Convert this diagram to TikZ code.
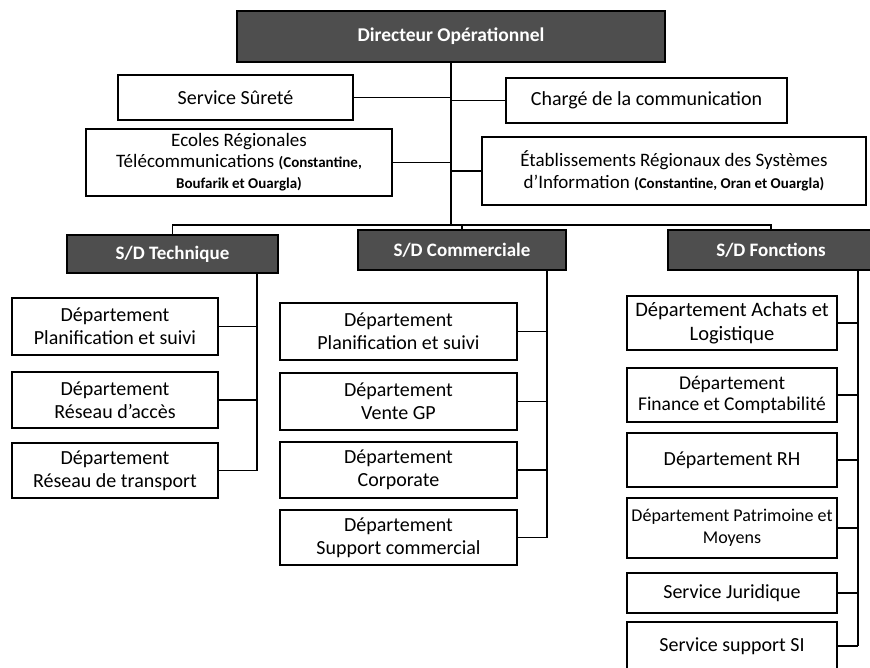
\documentclass[tikz,border=0pt]{standalone}
\usepackage{fontspec}
\setmainfont{Carlito}
\definecolor{darkfill}{HTML}{4E4E4E}
\newcommand\smallpar[1]{{\fontsize{15}{18}\selectfont\bfseries #1}}
\begin{document}
\begin{tikzpicture}[x=1pt,y=-1pt,
  wbox/.style={draw=black, line width=1.3pt, fill=white, align=center, inner sep=0pt, font=\fontsize{20}{23}\selectfont},
  dbox/.style={draw=black, line width=1.3pt, fill=darkfill, text=white, inner sep=0pt, font=\bfseries\fontsize{19}{22}\selectfont},
  sz/.style 2 args={minimum width=#1pt, minimum height=#2pt},
  link/.style={line width=1.3pt}]
\useasboundingbox (0,0) rectangle (870,667);
\clip (0,0) rectangle (870,667);
% top level
\node[dbox, sz={428}{51}, font=\bfseries\fontsize{19.5}{22}\selectfont] (dir) at (451,36.5) {Directeur Opérationnel};
\node[wbox, sz={235}{45}] (surete) at (235.5,97.5) {Service Sûreté};
\node[wbox, sz={281}{45}] (charge) at (646.5,100.5) {Chargé de la communication};
\node[wbox, sz={306}{67}, font=\fontsize{19}{21}\selectfont] (ecoles) at (239,162.5)
  {Ecoles Régionales\\Télécommunications \smallpar{(Constantine,}\\\smallpar{Boufarik et Ouargla)}};
\node[wbox, sz={384}{68}, font=\fontsize{19}{22}\selectfont] (etab) at (674,171)
  {Établissements Régionaux des Systèmes\\d’Information \smallpar{(Constantine, Oran et Ouargla)}};
% sub-directions
\node[dbox, sz={211}{38}] (tech) at (172.5,254) {S/D Technique};
\node[dbox, sz={208}{40}] (comm) at (462,250) {S/D Commerciale};
\node[dbox, sz={206}{40}] (fonc) at (771,250) {S/D Fonctions};
% technique children
\node[wbox, sz={206}{57}] (tp) at (115,326.5) {Département\\Planification et suivi};
\node[wbox, sz={206}{56}] (tr) at (115,400) {Département\\Réseau d’accès};
\node[wbox, sz={206}{55}] (tt) at (115,470.5) {Département\\Réseau de transport};
% commerciale children
\node[wbox, sz={237}{57}] (cp) at (398.5,331.5) {Département\\Planification et suivi};
\node[wbox, sz={237}{57}] (cv) at (398.5,401.5) {Département\\Vente GP};
\node[wbox, sz={237}{56}] (cc) at (398.5,470) {Département\\Corporate};
\node[wbox, sz={237}{55}] (cs) at (398.5,537.5) {Département\\Support commercial};
% fonctions children
\node[wbox, sz={210}{54}, font=\fontsize{20.5}{24}\selectfont] (fa) at (732,323) {Département Achats et\\Logistique};
\node[wbox, sz={210}{54}, font=\fontsize{19.5}{21}\selectfont] (ff) at (732,395) {Département\\Finance et Comptabilité};
\node[wbox, sz={210}{54}] (frh) at (732,460) {Département RH};
\node[wbox, sz={210}{60}, font=\fontsize{18}{22}\selectfont] (fp) at (732,528) {Département Patrimoine et\\Moyens};
\node[wbox, sz={210}{40}] (fj) at (732,593) {Service Juridique};
\node[wbox, sz={210}{48}] (fs) at (732,646) {Service support SI};
% connectors top
\coordinate (bar) at (451,225);
\draw[link] (dir.south) -- (dir.south |- bar);
\draw[link] (surete.east) -- (surete.east -| dir.south);
\draw[link] (charge.west) -- (charge.west -| dir.south);
\draw[link] (ecoles.east) -- (ecoles.east -| dir.south);
\draw[link] (etab.west) -- (etab.west -| dir.south);
\draw[link] (tech.north) |- (bar) -| (fonc.north);
\draw[link] (comm.north) -- (comm.north |- bar);
% buses
\coordinate (tb) at (257,0);
\coordinate (cb) at (547,0);
\coordinate (fb) at (858,0);
\draw[link] (tech.south -| tb) -- (tt.east -| tb);
\foreach \n in {tp,tr,tt} \draw[link] (\n.east) -- (\n.east -| tb);
\draw[link] (comm.south -| cb) -- (cs.east -| cb);
\foreach \n in {cp,cv,cc,cs} \draw[link] (\n.east) -- (\n.east -| cb);
\draw[link] (fonc.south -| fb) -- (fs.east -| fb);
\foreach \n in {fa,ff,frh,fp,fj,fs} \draw[link] (\n.east) -- (\n.east -| fb);
\end{tikzpicture}
\end{document}
